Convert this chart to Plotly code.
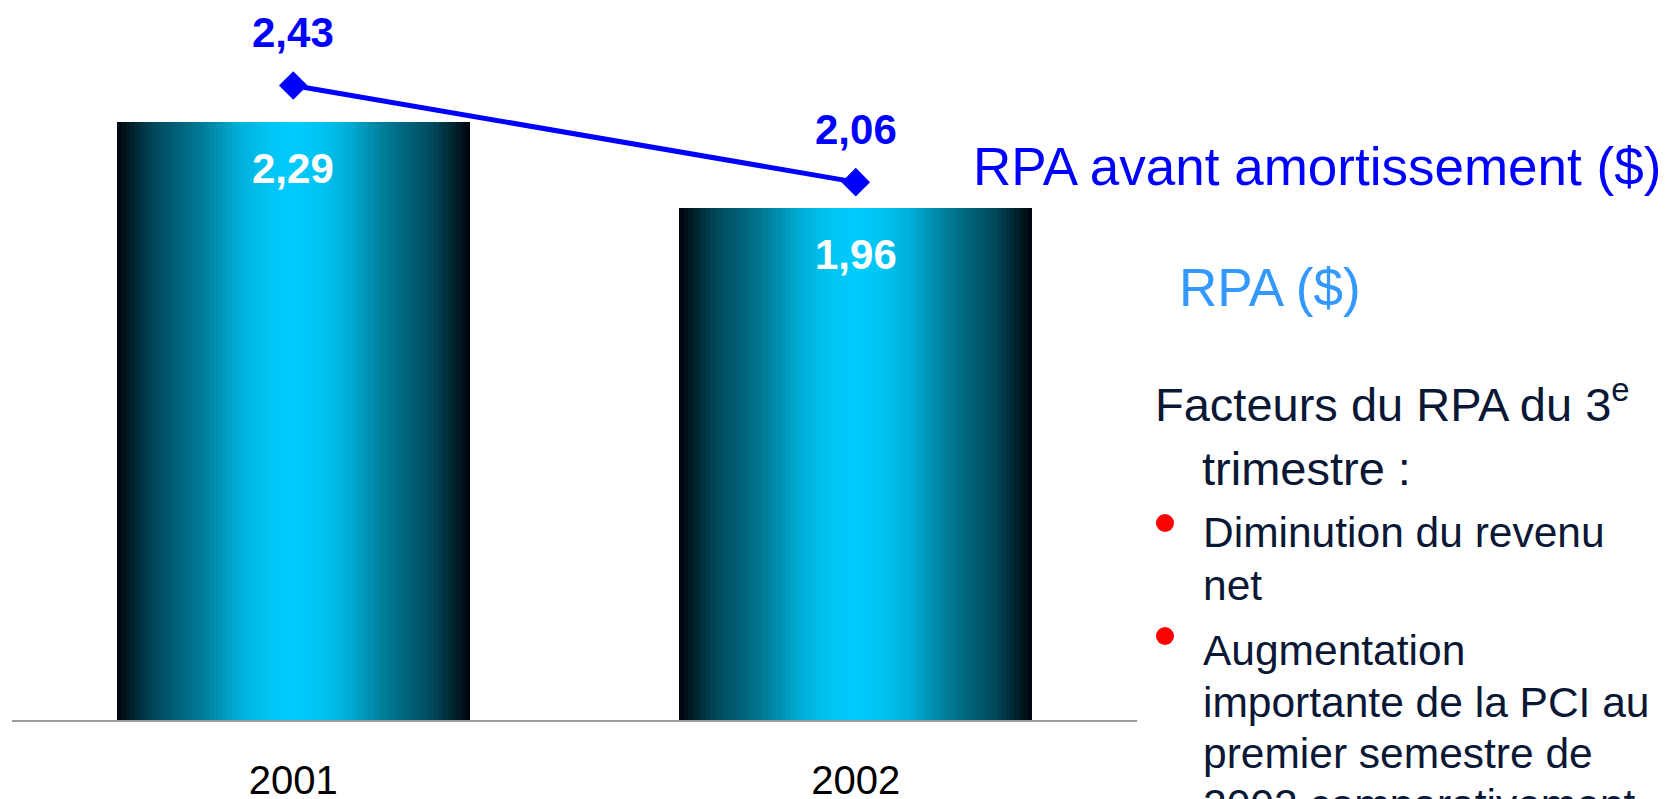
import plotly.graph_objects as go

# --- data -------------------------------------------------------------
years = ["2001", "2002"]
rpa = [2.29, 1.96]                 # RPA ($)
rpa_avant_amort = [2.43, 2.06]     # RPA avant amortissement ($)

series_rpa_name = "RPA ($)"
series_avant_name = "RPA avant amortissement ($)"

heading_lines = ["Facteurs du RPA du 3<sup>e</sup>", "trimestre :"]
bullet_1 = ["Diminution du revenu", "net"]
bullet_2 = ["Augmentation", "importante de la PCI au",
            "premier semestre de", "2002 comparativement"]

# --- style ------------------------------------------------------------
W, H = 1669, 799
FONT = "Liberation Sans, Arial, Helvetica, sans-serif"
BLUE = "#0000ff"
LIGHT_BLUE = "#3399ff"
NAVY = "#0a1836"
BAR_WIDTH = 0.627
N_SLICES = 80

# horizontal gradient of each column: distance from centre (0) to edge (1)
grad_stops = [
    (0.00, (0, 204, 255)),
    (0.15, (0, 196, 242)),
    (0.30, (0, 176, 218)),
    (0.50, (0, 128, 156)),
    (0.62, (0, 104, 128)),
    (0.80, (0, 70, 88)),
    (0.92, (0, 32, 42)),
    (1.00, (0, 4, 10)),
]


def grad_color(d):
    for (d0, c0), (d1, c1) in zip(grad_stops[:-1], grad_stops[1:]):
        if d <= d1:
            t = (d - d0) / (d1 - d0) if d1 > d0 else 0
            c = [round(a + (b - a) * t) for a, b in zip(c0, c1)]
            return f"rgb({c[0]},{c[1]},{c[2]})"
    c = grad_stops[-1][1]
    return f"rgb({c[0]},{c[1]},{c[2]})"


def px_x(x):
    return x / W


def px_y(y):
    return 1 - y / H


fig = go.Figure()

# columns drawn as thin vertical slices to build the shaded look
slice_w = BAR_WIDTH / N_SLICES
for i in range(N_SLICES):
    off = -BAR_WIDTH / 2 + i * slice_w
    centre = off + slice_w / 2
    d = abs(centre) / (BAR_WIDTH / 2)
    w = min(slice_w * 1.6, BAR_WIDTH / 2 - off)
    fig.add_trace(go.Bar(
        x=years, y=rpa, width=[w] * len(years), offset=[off] * len(years),
        marker=dict(color=grad_color(d), line=dict(width=0)),
        name=series_rpa_name, showlegend=False, hoverinfo="skip",
    ))

fig.add_trace(go.Scatter(
    x=years, y=rpa_avant_amort, mode="lines+markers",
    line=dict(color=BLUE, width=5),
    marker=dict(symbol="diamond", size=22, color=BLUE),
    name=series_avant_name, showlegend=False, cliponaxis=False,
))

ann = []
fmt = lambda v: f"{v:.2f}".replace(".", ",")
for idx, v in enumerate(rpa):
    ann.append(dict(x=idx, y=v, xref="x", yref="y", text=f"<b>{fmt(v)}</b>",
                    showarrow=False, yshift=-46, yanchor="middle",
                    font=dict(family=FONT, size=42, color="white")))
for idx, v in enumerate(rpa_avant_amort):
    ann.append(dict(x=idx, y=v, xref="x", yref="y", text=f"<b>{fmt(v)}</b>",
                    showarrow=False, yshift=53, yanchor="middle",
                    font=dict(family=FONT, size=42, color=BLUE)))

# series labels
ann.append(dict(x=px_x(1317), y=px_y(166), xref="paper", yref="paper",
                text=series_avant_name, showarrow=False, xanchor="center",
                yanchor="middle", font=dict(family=FONT, size=53, color=BLUE)))
ann.append(dict(x=px_x(1270), y=px_y(288), xref="paper", yref="paper",
                text=series_rpa_name, showarrow=False, xanchor="center",
                yanchor="middle", font=dict(family=FONT, size=53, color=LIGHT_BLUE)))

# commentary block
def text_line(txt, x, bottom, size):
    ann.append(dict(x=px_x(x), y=px_y(bottom), xref="paper", yref="paper",
                    text=txt, showarrow=False, xanchor="left", yanchor="bottom",
                    font=dict(family=FONT, size=size, color=NAVY)))

text_line(heading_lines[0], 1153, 433, 47)
text_line(heading_lines[1], 1200, 497, 47)
for line, bottom in zip(bullet_1, (558, 611)):
    text_line(line, 1201, bottom, 42.5)
for line, bottom in zip(bullet_2, (676, 728, 779, 830)):
    text_line(line, 1201, bottom, 42.5)

# red bullet dots
for cy in (523, 636):
    fig.add_shape(type="circle", xref="paper", yref="paper",
                  x0=px_x(1156), x1=px_x(1174), y0=px_y(cy + 9), y1=px_y(cy - 9),
                  fillcolor="#ff0000", line=dict(width=0))

y_top = 720 / 261.1
fig.update_layout(
    width=W, height=H,
    margin=dict(l=0, r=0, t=0, b=0, autoexpand=False),
    paper_bgcolor="white", plot_bgcolor="white",
    barmode="overlay", bargap=0,
    showlegend=False,
    annotations=ann,
    xaxis=dict(domain=[px_x(12), px_x(1137)], range=[-0.5, 1.5],
               type="category", showline=True, linecolor="#9c9c9c", linewidth=2,
               ticks="", showgrid=False, zeroline=False, automargin=False,
               tickfont=dict(family=FONT, size=40, color="black"),
               ticklabelstandoff=24),
    yaxis=dict(domain=[1 - 720 / H, 1], range=[0, y_top], visible=False,
               showgrid=False, zeroline=False, automargin=False),
)

fig.write_html("out.html")
